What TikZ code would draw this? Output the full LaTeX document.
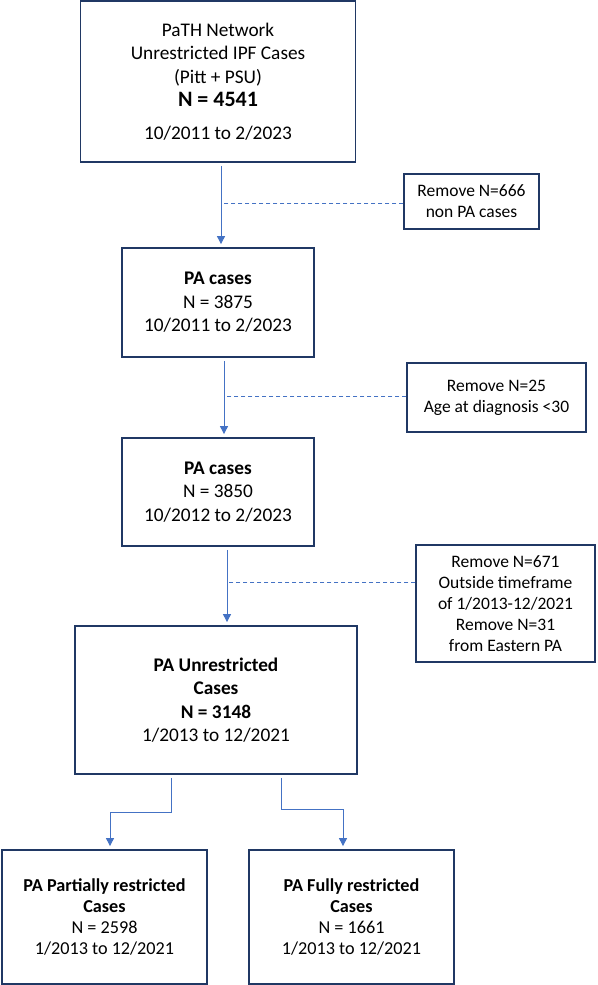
\documentclass[tikz,border=0pt]{standalone}
\usepackage{fontspec}
\setmainfont{Carlito}
\usetikzlibrary{arrows.meta}
\definecolor{boxnavy}{HTML}{203864}
\definecolor{linkblue}{HTML}{4472C4}
\tikzset{
  stagebox/.style={draw=boxnavy, line width=1.8pt, align=center, inner sep=2pt, font=\fontsize{19.3}{23.5}\selectfont},
  leafbox/.style={draw=boxnavy, line width=1.8pt, align=center, inner sep=2pt, font=\fontsize{18.2}{21}\selectfont},
  dropbox/.style={draw=boxnavy, line width=1.5pt, align=center, inner sep=2pt, font=\fontsize{17.5}{21}\selectfont},
  flowarrow/.style={linkblue, line width=0.9pt, -{Triangle[width=8pt,length=8pt]}, shorten <=3pt, shorten >=3pt},
  dropline/.style={linkblue, line width=0.9pt, dash pattern=on 4pt off 3pt}
}

\begin{document}
\begin{tikzpicture}[x=1pt,y=-1pt]
\useasboundingbox (0,0) rectangle (597,985);
\node[stagebox, minimum width=275pt, minimum height=161pt] (pitt) at (218,81.5) {PaTH Network\\Unrestricted IPF Cases\\(Pitt + PSU)\\{\fontsize{22}{26}\selectfont\bfseries N = 4541}\\[9pt]10/2011 to 2/2023};
\node[stagebox, minimum width=192pt, minimum height=109pt] (pa1) at (218,302.5) {\textbf{PA cases}\\N = 3875\\10/2011 to 2/2023};
\node[stagebox, minimum width=192pt, minimum height=108pt] (pa2) at (218,492) {\textbf{PA cases}\\N = 3850\\10/2012 to 2/2023};
\node[stagebox, minimum width=282pt, minimum height=148pt] (unres) at (216,700) {\textbf{PA Unrestricted}\\\textbf{Cases}\\\textbf{N = 3148}\\1/2013 to 12/2021};
\node[leafbox, minimum width=205pt, minimum height=134pt] (partial) at (104.5,917) {\textbf{PA Partially restricted}\\\textbf{Cases}\\N = 2598\\1/2013 to 12/2021};
\node[leafbox, minimum width=205pt, minimum height=134pt] (full) at (351.5,917) {\textbf{PA Fully restricted}\\\textbf{Cases}\\N = 1661\\1/2013 to 12/2021};
\node[dropbox, minimum width=135pt, minimum height=55pt] (r1) at (471.5,201.5) {Remove N=666\\non PA cases};
\node[dropbox, minimum width=179pt, minimum height=69pt] (r2) at (496.5,397.5) {Remove N=25\\Age at diagnosis <30};
\node[dropbox, minimum width=179pt, minimum height=117pt] (r3) at (505.5,603.5) {Remove N=671\\Outside timeframe\\of 1/2013-12/2021\\Remove N=31\\from Eastern PA};
\coordinate (j1) at (221,203);
\coordinate (j2) at (224,396);
\coordinate (j3) at (227,582);
\coordinate (sl) at (171,812);
\coordinate (sla) at (110,812);
\coordinate (sr) at (281,809);
\coordinate (sra) at (343,809);
\draw[flowarrow] (pitt.south -| j1) -- (pa1.north -| j1);
\draw[flowarrow] (pa1.south -| j2) -- (pa2.north -| j2);
\draw[flowarrow] (pa2.south -| j3) -- (unres.north -| j3);
\draw[dropline] (r1.west |- j1) -- (j1);
\draw[dropline] (r2.west |- j2) -- (j2);
\draw[dropline] (r3.west |- j3) -- (j3);
\draw[flowarrow] (unres.south -| sl) -- (sl) -- (sla) -- (partial.north -| sla);
\draw[flowarrow] (unres.south -| sr) -- (sr) -- (sra) -- (full.north -| sra);
\end{tikzpicture}
\end{document}
